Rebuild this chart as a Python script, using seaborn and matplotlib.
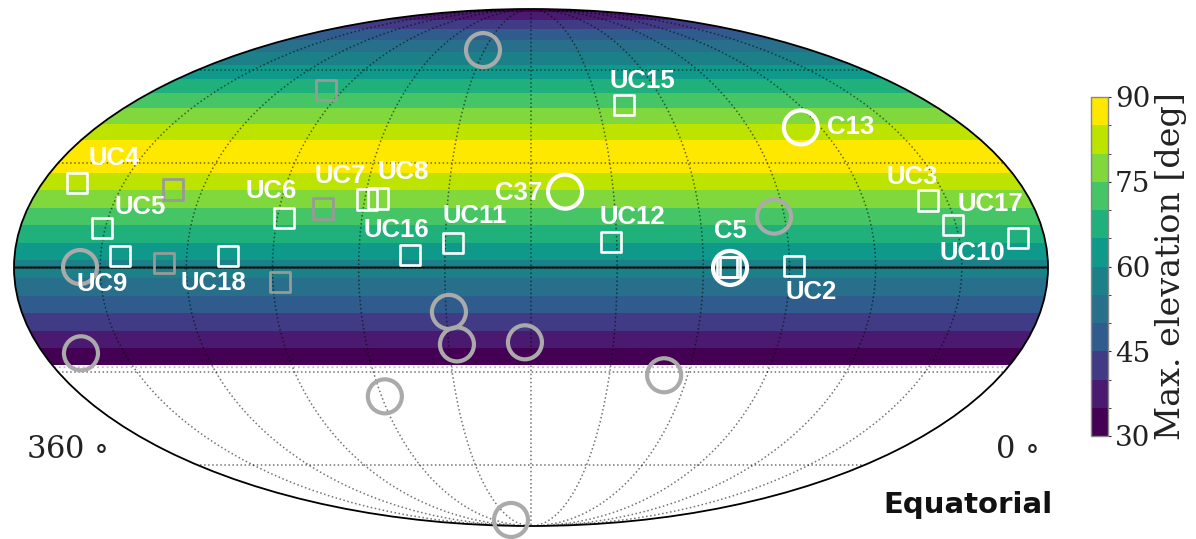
import numpy as np
import pandas as pd
import matplotlib
matplotlib.use('Agg')
import matplotlib.pyplot as plt
import seaborn as sns
from matplotlib.colors import BoundaryNorm, ListedColormap
from matplotlib.cm import ScalarMappable

# Max. elevation bands, south to north
dec_edges = [-28, -23, -18, -13, -8, -3, 2, 7, 12, 17, 22, 27, 37, 42, 47, 52, 57, 62, 67, 72, 77, 82, 87, 90]
band_elev = [32.5, 37.5, 42.5, 47.5, 52.5, 57.5, 62.5, 67.5, 72.5, 77.5, 82.5, 87.5,
             82.5, 77.5, 72.5, 67.5, 62.5, 57.5, 52.5, 47.5, 42.5, 37.5, 32.5]
elev_levels = [30, 35, 40, 45, 50, 55, 60, 65, 70, 75, 80, 85, 90]
elev_ticks = [30, 45, 60, 75, 90]
band_colors = ['#440053', '#4a1a70', '#413b85', '#2f5c8c', '#276f8a', '#1b8088',
               '#0e998a', '#1fb07c', '#45c566', '#80d83c', '#bde300', '#ffe800']

# white squares
white_sq_ra = [347.3, 331.2, 323.2, 285.6, 267.6, 239.2, 235.3, 222.2, 207.3, 152.0, 138.4, 110.7, 111.8, 88.4, 36.9, 31.0, 9.3]
white_sq_dec = [24.2, 11.2, 3.3, 3.3, 14.1, 19.3, 19.6, 3.5, 6.9, 7.2, 48.0, 0.1, 0.1, 0.4, 19.0, 12.1, 8.4]
# grey squares
grey_sq_ra = [278.0, 310.7, 254.4, 307.8, 267.5]
grey_sq_dec = [53.0, 22.2, 16.7, 1.3, -4.1]
# grey circles
grey_ci_ra = [210.9, 337.0, 346.1, 209.0, 207.0, 182.2, 238.7, 129.0, 212.4, 93.7]
grey_ci_dec = [67.8, 0.1, -24.5, -12.6, -21.9, -21.3, -37.4, -31.0, -84.7, 14.4]
# white circles
white_ci_ra = [167.6, 68.2, 110.7]
white_ci_dec = [21.6, 40.9, -0.1]

label_names = ['UC4', 'UC5', 'UC9', 'UC18', 'UC6', 'UC7', 'UC8', 'UC16', 'UC11', 'C37', 'UC12', 'UC15',
               'C13', 'C5', 'UC2', 'UC3', 'UC17', 'UC10']
label_x = [114, 140, 102, 213, 271, 340, 403, 396, 475, 519, 632, 642, 851, 730, 811, 912, 990, 972]
label_y = [158, 207, 284, 283, 191, 176, 172, 230, 216, 193, 217, 81, 127, 231, 292, 177, 204, 253]

W, H = 1196, 539
sns.set_style('white')
plt.rcParams['font.family'] = ['Liberation Sans', 'DejaVu Sans']
plt.rcParams['mathtext.fontset'] = 'dejavuserif'

fig = plt.figure(figsize=(W / 100, H / 100), dpi=100)
ax = fig.add_axes([14 / W, (H - 526) / H, 1034 / W, 517 / H], projection='mollweide')


def to_lon(ra):
    return np.radians(180 - np.array(ra))


cmap = ListedColormap(band_colors)
norm = BoundaryNorm(elev_levels, cmap.N)

lon_edges = np.radians(np.linspace(-180, 180, 721))
lat_edges = np.radians(dec_edges)
grid = np.tile(np.array(band_elev)[:, None], (1, 720))
ax.pcolormesh(lon_edges, lat_edges, grid, cmap=cmap, norm=norm, shading='flat', rasterized=True, zorder=1)

# speckled southern edge of the map
ax.plot(lon_edges, np.full(lon_edges.shape, np.radians(-28.6)), ls=':', color='#c8b4d4', lw=1.3, zorder=1.5)

ax.set_longitude_grid(30)
ax.set_latitude_grid(30)
ax.set_longitude_grid_ends(89)
ax.xaxis.set_ticklabels([])
ax.yaxis.set_ticklabels([])
ax.grid(True, ls=':', color='black', lw=1.1, alpha=0.55, zorder=2)
ax.set_axisbelow(False)
ax.plot(lon_edges, np.zeros(lon_edges.shape), color='#111111', lw=1.5, zorder=3)
for s in ax.spines.values():
    s.set_linewidth(1.3)
    s.set_color('black')

# markers
sns.scatterplot(data=pd.DataFrame({'lon': to_lon(grey_sq_ra), 'lat': np.radians(grey_sq_dec)}), x='lon', y='lat', ax=ax,
                marker='s', s=215, facecolor='none', edgecolor='#999999', linewidth=2.0, clip_on=False, zorder=4)
sns.scatterplot(data=pd.DataFrame({'lon': to_lon(grey_ci_ra), 'lat': np.radians(grey_ci_dec)}), x='lon', y='lat', ax=ax,
                marker='o', s=600, facecolor='none', edgecolor='#aaaaaa', linewidth=3, clip_on=False, zorder=4)
sns.scatterplot(data=pd.DataFrame({'lon': to_lon(white_sq_ra), 'lat': np.radians(white_sq_dec)}), x='lon', y='lat', ax=ax,
                marker='s', s=215, facecolor='none', edgecolor='white', linewidth=1.9, clip_on=False, zorder=5)
sns.scatterplot(data=pd.DataFrame({'lon': to_lon(white_ci_ra), 'lat': np.radians(white_ci_dec)}), x='lon', y='lat', ax=ax,
                marker='o', s=600, facecolor='none', edgecolor='white', linewidth=3, clip_on=False, zorder=5)
ax.set_xlabel('')
ax.set_ylabel('')

for name, x, y in zip(label_names, label_x, label_y):
    fig.text(x / W, 1 - y / H, name, color='white', fontsize=18.5, fontweight='bold', ha='center', va='center', zorder=6)

fig.text(67 / W, 1 - 449 / H, r'360 $\circ$', family='DejaVu Serif', fontsize=22, color='#222222', ha='center', va='center')
fig.text(1016 / W, 1 - 449 / H, r'0 $\circ$', family='DejaVu Serif', fontsize=22, color='#222222', ha='center', va='center')
fig.text(968 / W, 1 - 505 / H, 'Equatorial', fontsize=21, fontweight='bold', family='DejaVu Sans', color='#111111', ha='center', va='center')

# colour bar
cax = fig.add_axes([1091 / W, (H - 436) / H, 17 / W, 339 / H])
cb = fig.colorbar(ScalarMappable(norm=norm, cmap=cmap), cax=cax, ticks=elev_ticks, spacing='proportional')
cb.ax.tick_params(length=2, width=0.8, labelsize=20, pad=3, labelcolor='#222222', right=True)
cb.outline.set_edgecolor('#888888')
cb.outline.set_linewidth(1)
for t in cb.ax.get_yticklabels():
    t.set_family('DejaVu Serif')
cb.set_label('Max. elevation [deg]', family='DejaVu Serif', fontsize=24, color='#222222', va='center')
cb.ax.yaxis.set_label_coords((1171 - 1091) / 17, 0.5)

fig.savefig('out.png', dpi=100)
